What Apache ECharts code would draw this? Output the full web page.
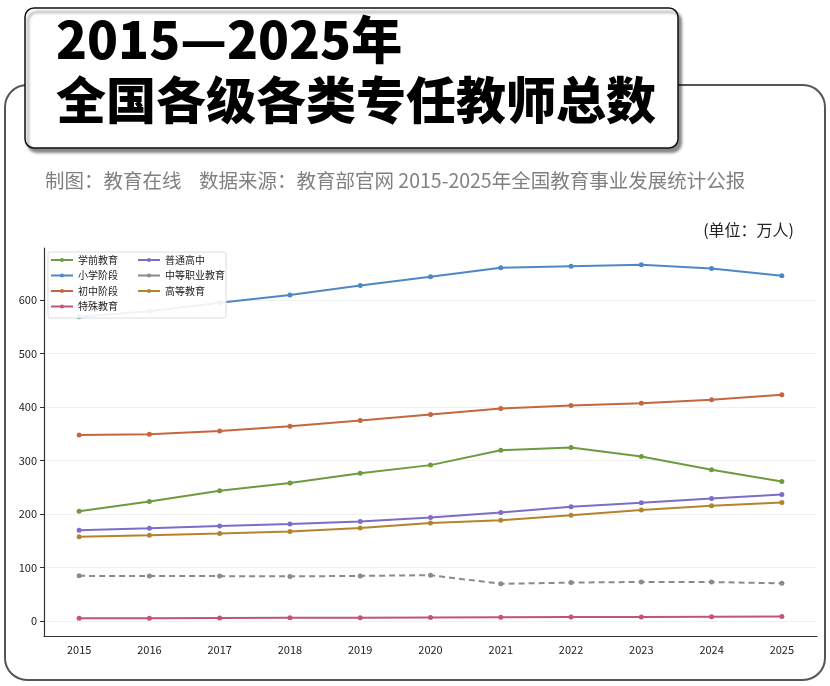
<!DOCTYPE html>
<html>
<head>
<meta charset="utf-8">
<script src="https://cdn.jsdelivr.net/npm/echarts@6/dist/echarts.min.js"></script>
<style>
  html, body { margin: 0; padding: 0; background: #fff; }
  #main { width: 830px; height: 686px; }
</style>
</head>
<body>
<div id="main"></div>
<script>
// 数据 (单位：万人)
var years = ['2015', '2016', '2017', '2018', '2019', '2020', '2021', '2022', '2023', '2024', '2025'];
var yTicks = [0, 100, 200, 300, 400, 500, 600];

var preschool = [205.1, 223.2, 243.2, 258.1, 276.3, 291.3, 319.1, 324.4, 307.4, 282.5, 260.5];   // 学前教育
var primary = [568.5, 578.9, 594.5, 609.2, 626.9, 643.4, 660.1, 662.9, 665.6, 658.5, 645.0];     // 小学阶段
var junior = [347.6, 348.8, 354.9, 363.9, 374.7, 386.1, 397.1, 402.5, 407.1, 413.5, 423.0];      // 初中阶段
var special = [5.0, 5.3, 5.6, 5.9, 6.2, 6.6, 6.9, 7.3, 7.7, 8.0, 8.3];                           // 特殊教育
var senior = [169.5, 173.3, 177.4, 181.3, 185.9, 193.3, 202.8, 213.3, 221.0, 229.0, 236.5];      // 普通高中
var vocational = [84.4, 84.0, 83.9, 83.4, 84.3, 85.7, 69.5, 71.8, 73.0, 72.8, 70.5];             // 中等职业教育
var higher = [157.3, 160.2, 163.3, 167.3, 174.0, 183.3, 188.5, 197.8, 207.5, 215.5, 221.5];      // 高等教育

var FONT = '"Noto Sans CJK SC", "Noto Sans", sans-serif';

function lineSeries(name, data, color, dashed) {
    return {
        name: name,
        type: 'line',
        data: data,
        symbol: 'circle',
        symbolSize: 5,
        showSymbol: true,
        z: 2,
        lineStyle: { width: 2, color: color, type: dashed ? [6, 4] : 'solid' },
        itemStyle: { color: color },
        emphasis: { disabled: true }
    };
}

function legendBox(left, names) {
    return {
        orient: 'vertical',
        left: left,
        top: 255,
        itemWidth: 22,
        itemHeight: 5,
        itemGap: 5.5,
        padding: 0,
        textStyle: { fontSize: 10, color: '#222' },
        data: names.map(function (n) {
            return { name: n, lineStyle: { type: 'solid' } };
        })
    };
}

var myChart = echarts.init(document.getElementById('main'));

var option = {
    animation: false,
    backgroundColor: '#fff',
    textStyle: { fontFamily: FONT },
    grid: { left: 44, right: 13, top: 248, bottom: 50, containLabel: false },
    xAxis: {
        type: 'category',
        data: years,
        boundaryGap: true,
        axisLine: { onZero: false, lineStyle: { color: '#333', width: 1.2 } },
        axisTick: { alignWithLabel: true, length: 4, lineStyle: { color: '#333' } },
        axisLabel: { color: '#222', fontSize: 11, margin: 8 },
        splitLine: { show: false }
    },
    yAxis: {
        type: 'value',
        min: -28,
        max: 697,
        axisLine: { show: true, lineStyle: { color: '#333', width: 1.2 } },
        axisTick: { show: true, length: 4, customValues: yTicks, lineStyle: { color: '#333' } },
        axisLabel: { color: '#222', fontSize: 11, margin: 7, customValues: yTicks },
        splitLine: { show: true, lineStyle: { color: '#ececec', width: 0.8 } }
    },
    legend: [
        legendBox(50, ['学前教育', '小学阶段', '初中阶段', '特殊教育']),
        legendBox(137, ['普通高中', '中等职业教育', '高等教育'])
    ],
    graphic: [
        // 外框
        {
            type: 'rect', z: 0, silent: true,
            shape: { x: 5, y: 85, width: 820, height: 595, r: 22 },
            style: { fill: '#fff', stroke: '#555', lineWidth: 2 }
        },
        // 标题框
        {
            type: 'rect', z: 10, silent: true,
            shape: { x: 25, y: 8, width: 653, height: 140, r: 9 },
            style: {
                fill: '#fff', stroke: '#111', lineWidth: 1.5,
                shadowColor: 'rgba(0,0,0,0.45)', shadowOffsetX: 3, shadowOffsetY: 4, shadowBlur: 3
            }
        },
        {
            type: 'text', z: 11, silent: true,
            left: 56, top: 14,
            style: { text: '2015—2025年', font: '900 51px ' + FONT, fill: '#000' }
        },
        {
            type: 'text', z: 11, silent: true,
            left: 56, top: 75,
            style: { text: '全国各级各类专任教师总数', font: '900 50px ' + FONT, fill: '#000' }
        },
        {
            type: 'text', z: 11, silent: true,
            left: 45, top: 171,
            style: { text: '制图：教育在线    数据来源：教育部官网 2015-2025年全国教育事业发展统计公报', font: '19.5px ' + FONT, fill: '#808080' }
        },
        {
            type: 'text', z: 11, silent: true,
            right: 36, top: 222,
            style: { text: '(单位：万人)', font: '16px ' + FONT, fill: '#222' }
        },
        // 图例底框
        {
            type: 'rect', z: 3, silent: true,
            shape: { x: 48, y: 252, width: 178, height: 66, r: 2 },
            style: { fill: 'rgba(255,255,255,0.9)', stroke: '#ddd', lineWidth: 1 }
        }
    ],
    series: [
        lineSeries('学前教育', preschool, '#6e9b3f'),
        lineSeries('小学阶段', primary, '#4f87c6'),
        lineSeries('初中阶段', junior, '#c4663f'),
        lineSeries('特殊教育', special, '#c25479'),
        lineSeries('普通高中', senior, '#7b6ec6'),
        lineSeries('中等职业教育', vocational, '#8a8a8a', true),
        lineSeries('高等教育', higher, '#b5832c')
    ]
};

myChart.setOption(option);
</script>
</body>
</html>
